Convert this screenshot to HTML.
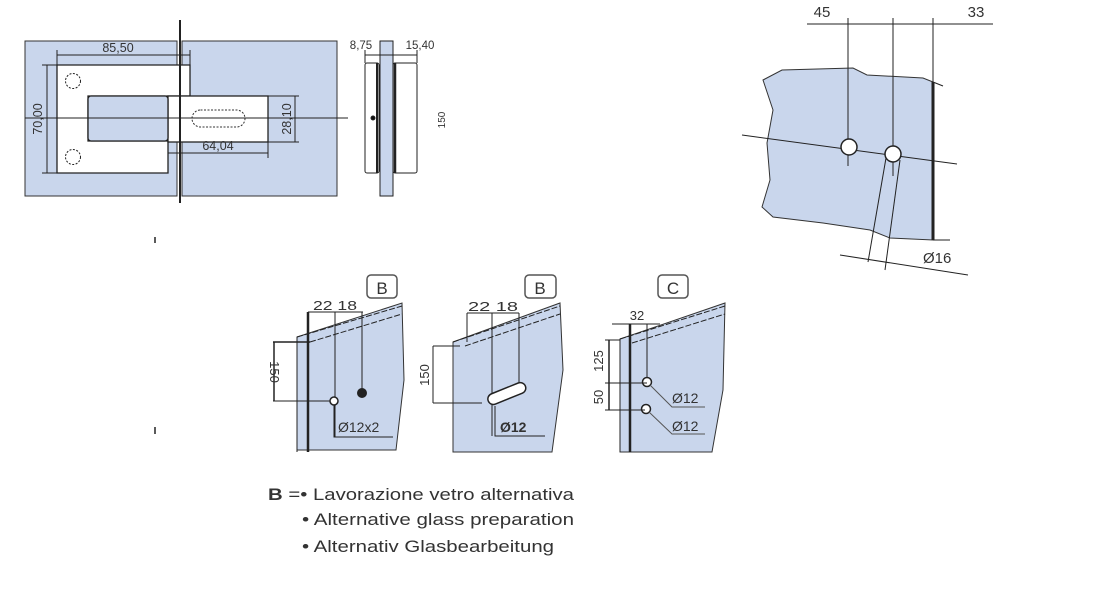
<!DOCTYPE html>
<html><head><meta charset="utf-8"><style>
html,body{margin:0;padding:0;background:#fff;}
svg{display:block;font-family:"Liberation Sans",sans-serif;}
</style></head><body>
<svg width="1099" height="600" viewBox="0 0 1099 600" xmlns="http://www.w3.org/2000/svg">
<g stroke="#222" fill="none" stroke-width="1">
<rect x="25" y="41" width="152" height="155" fill="#c9d6ec" stroke="#333"/>
<rect x="182" y="41" width="155" height="155" fill="#c9d6ec" stroke="#333"/>
<path d="M57 65 H190 V96 H88 V141 H168 V173 H57 Z" fill="#fff" stroke="#222" stroke-width="1.3"/>
<rect x="168" y="96" width="100" height="46" fill="#fff" stroke="#222" stroke-width="1.3"/>
<rect x="88" y="96" width="80" height="45" rx="3" fill="#c9d6ec" stroke="#222" stroke-width="1.3"/>
<rect x="192" y="110" width="53" height="17" rx="8.5" fill="#fff" stroke="#333" stroke-dasharray="2,1.5"/>
<circle cx="73" cy="81" r="7.5" stroke-dasharray="2,1.5"/>
<circle cx="73" cy="157" r="7.5" stroke-dasharray="2,1.5"/>
<line x1="180" y1="20" x2="180" y2="203" stroke-width="2"/>
<line x1="25" y1="118" x2="348" y2="118"/>
<line x1="57" y1="55" x2="190" y2="55"/><line x1="57" y1="50" x2="57" y2="65"/><line x1="190" y1="50" x2="190" y2="65"/>
<line x1="47" y1="65" x2="47" y2="173"/><line x1="42" y1="65" x2="57" y2="65"/><line x1="42" y1="173" x2="57" y2="173"/>
<line x1="295" y1="96" x2="295" y2="142"/><line x1="268" y1="96" x2="299" y2="96"/><line x1="268" y1="142" x2="299" y2="142"/>
<line x1="168" y1="153" x2="268" y2="153"/><line x1="268" y1="142" x2="268" y2="158"/>
<rect x="380" y="41" width="13" height="155" fill="#c9d6ec"/>
<rect x="365" y="63" width="14" height="110" rx="2" fill="#fff"/>
<rect x="393" y="63" width="24" height="110" rx="2" fill="#fff"/>
<line x1="395" y1="63" x2="395" y2="173" stroke-width="2.5"/>
<line x1="377" y1="63" x2="377" y2="173" stroke-width="2"/>
<line x1="365" y1="55" x2="417" y2="55"/>
<line x1="365" y1="50" x2="365" y2="63"/><line x1="417" y1="50" x2="417" y2="63"/>
<circle cx="373" cy="118" r="2" fill="#111"/>
<line x1="155" y1="237" x2="155" y2="243" stroke-width="1.5"/>
<line x1="155" y1="427" x2="155" y2="434" stroke-width="1.5"/>

<path d="M763 80 L782 70 L853 68 L867 75 L923 78 L933 82 L933 240 L890 238 L870 230 L823 223 L773 217 L762 207 L770 180 L767 143 L773 110 Z" fill="#c9d6ec" stroke="#333"/>
<line x1="933" y1="82" x2="933" y2="240" stroke-width="3"/>
<line x1="933" y1="82" x2="943" y2="86"/><line x1="933" y1="240" x2="950" y2="240"/>
<line x1="807" y1="24" x2="993" y2="24"/>
<line x1="848" y1="18" x2="848" y2="166"/>
<line x1="893" y1="18" x2="893" y2="176"/>
<line x1="933" y1="18" x2="933" y2="82"/>
<line x1="742" y1="135" x2="957" y2="164"/>
<circle cx="849" cy="147" r="8" fill="#fff" stroke-width="1.5"/>
<circle cx="893" cy="154" r="8" fill="#fff" stroke-width="1.5"/>
<line x1="886" y1="158" x2="868" y2="262"/>
<line x1="900" y1="160" x2="885" y2="270"/>
<line x1="840" y1="255" x2="968" y2="275"/>

<path d="M297 337 L402 303 L404 380 L396 450 L297 450 Z" fill="#c9d6ec" stroke="#333"/>
<line x1="297" y1="337" x2="402" y2="306" stroke-dasharray="6,2"/>
<line x1="310" y1="342" x2="402" y2="314" stroke-dasharray="6,2"/>
<line x1="297" y1="337" x2="297" y2="452"/>
<line x1="308" y1="312" x2="308" y2="452" stroke-width="2.5"/>
<line x1="308" y1="312" x2="363" y2="312"/>
<line x1="335" y1="312" x2="335" y2="437"/>
<line x1="362" y1="312" x2="362" y2="390"/>
<circle cx="334" cy="401" r="4" fill="#fff" stroke-width="1.5"/>
<circle cx="362" cy="393" r="4.5" fill="#222"/>
<line x1="273" y1="342" x2="310" y2="342" stroke-width="1.5"/>
<line x1="273" y1="401" x2="330" y2="401"/>
<line x1="274" y1="342" x2="274" y2="401" stroke-width="1.5"/>
<polyline points="334,405 334,437 393,437"/>
<rect x="367" y="275" width="30" height="23" rx="4" stroke="#555" stroke-width="1.5"/>

<path d="M453 342 L560 303 L563 370 L552 452 L453 452 Z" fill="#c9d6ec" stroke="#333"/>
<line x1="453" y1="342" x2="560" y2="306" stroke-dasharray="6,2"/>
<line x1="465" y1="346" x2="560" y2="314" stroke-dasharray="6,2"/>
<line x1="467" y1="313" x2="519" y2="313"/>
<line x1="467" y1="313" x2="467" y2="342"/>
<line x1="492" y1="313" x2="492" y2="436"/>
<line x1="519" y1="313" x2="519" y2="390"/>
<rect x="487" y="388" width="40" height="11" rx="5.5" transform="rotate(-22 507 394)" fill="#fff" stroke-width="1.5"/>
<line x1="433" y1="346" x2="460" y2="346"/>
<line x1="433" y1="403" x2="482" y2="403"/>
<line x1="433" y1="346" x2="433" y2="403"/>
<polyline points="495,406 495,436 545,436"/>
<rect x="525" y="275" width="31" height="23" rx="4" stroke="#555" stroke-width="1.5"/>

<path d="M620 339 L725 303 L723 390 L712 452 L620 452 Z" fill="#c9d6ec" stroke="#333"/>
<line x1="620" y1="339" x2="725" y2="306" stroke-dasharray="6,2"/>
<line x1="632" y1="343" x2="725" y2="314" stroke-dasharray="6,2"/>
<line x1="620" y1="339" x2="620" y2="452"/>
<line x1="630" y1="324" x2="630" y2="452" stroke-width="2.5"/>
<line x1="612" y1="324" x2="660" y2="324"/>
<line x1="647" y1="324" x2="647" y2="380"/>
<circle cx="647" cy="382" r="4.5" fill="#fff" stroke-width="1.5"/>
<circle cx="646" cy="409" r="4.5" fill="#fff" stroke-width="1.5"/>
<polyline points="650,385 672,407 705,407" stroke="#555"/>
<polyline points="649,412 672,434 705,434" stroke="#555"/>
<line x1="609" y1="340" x2="609" y2="410" stroke-width="1.5"/>
<line x1="605" y1="340" x2="620" y2="340"/>
<line x1="605" y1="383" x2="647" y2="383"/>
<line x1="605" y1="410" x2="645" y2="410"/>
<rect x="658" y="275" width="30" height="23" rx="4" stroke="#555" stroke-width="1.5"/>
</g>

<g fill="#333" font-size="12.5">
<text x="118" y="52" text-anchor="middle">85,50</text>
<text x="42" y="119" text-anchor="middle" transform="rotate(-90 42 119)">70,00</text>
<text x="291" y="119" text-anchor="middle" transform="rotate(-90 291 119)">28,10</text>
<text x="218" y="150" text-anchor="middle">64,04</text>
<text x="361" y="49" text-anchor="middle" font-size="11.5">8,75</text>
<text x="420" y="49" text-anchor="middle" font-size="11.5">15,40</text>
<text x="445" y="120" text-anchor="middle" transform="rotate(-90 445 120)" font-size="10">150</text>
</g>
<g fill="#333" font-size="15">
<text x="822" y="17" text-anchor="middle">45</text>
<text x="976" y="17" text-anchor="middle">33</text>
<text x="923" y="263">Ø16</text>
</g>
<g fill="#333" font-size="13">
<text x="335" y="310" text-anchor="middle" textLength="44" lengthAdjust="spacingAndGlyphs">22 18</text>
<text x="493" y="311" text-anchor="middle" textLength="50" lengthAdjust="spacingAndGlyphs">22 18</text>
<text x="637" y="320" text-anchor="middle">32</text>
<text x="270" y="372" text-anchor="middle" transform="rotate(90 270 372)">150</text>
<text x="429" y="375" text-anchor="middle" transform="rotate(-90 429 375)">150</text>
<text x="603" y="361" text-anchor="middle" transform="rotate(-90 603 361)">125</text>
<text x="603" y="397" text-anchor="middle" transform="rotate(-90 603 397)">50</text>
<text x="338" y="432" font-size="14">Ø12x2</text>
<text x="500" y="432" font-size="14" font-weight="bold">Ø12</text>
<text x="672" y="403" font-size="14">Ø12</text>
<text x="672" y="431" font-size="14">Ø12</text>
<text x="382" y="294" text-anchor="middle" font-size="17">B</text>
<text x="540" y="294" text-anchor="middle" font-size="17">B</text>
<text x="673" y="294" text-anchor="middle" font-size="17">C</text>
</g>
<g fill="#333" font-size="17">
<text x="268" y="500" textLength="306" lengthAdjust="spacingAndGlyphs"><tspan font-weight="bold">B</tspan> =• Lavorazione vetro alternativa</text>
<text x="302" y="525" textLength="272" lengthAdjust="spacingAndGlyphs">• Alternative glass preparation</text>
<text x="302" y="552" textLength="252" lengthAdjust="spacingAndGlyphs">• Alternativ Glasbearbeitung</text>
</g>
</svg>
</body></html>
